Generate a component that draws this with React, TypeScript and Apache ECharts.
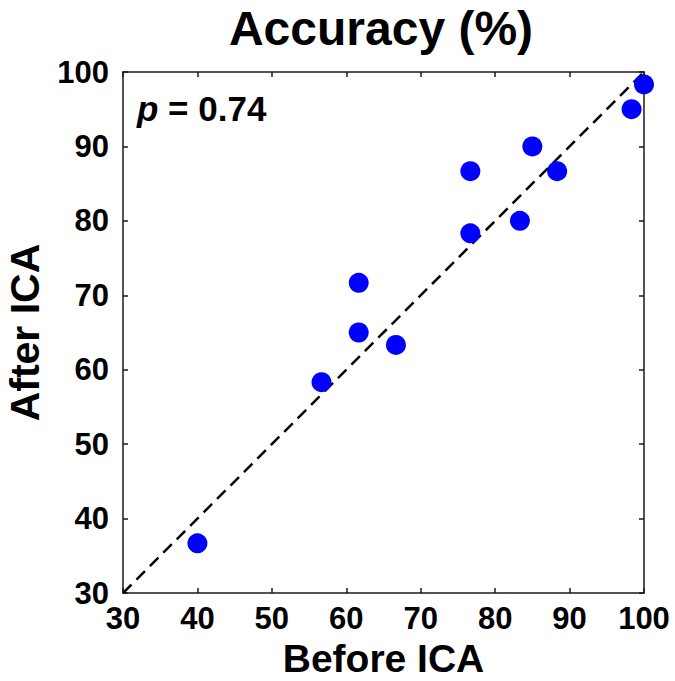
import React, { useEffect, useRef } from "react";
import * as echarts from "echarts";

const beforeICA = [40, 56.67, 61.67, 61.67, 66.67, 76.67, 76.67, 83.33, 85, 88.33, 98.33, 100];
const afterICA = [36.67, 58.33, 71.67, 65, 63.33, 86.67, 78.33, 80, 90, 86.67, 95, 98.33];
const axisTicks = [30, 40, 50, 60, 70, 80, 90, 100];
const identityLine = [[30, 30], [100, 100]];
const titleText = "Accuracy (%)";
const xName = "Before ICA";
const yName = "After ICA";
const pValue = "0.74";

const FONT = "Liberation Sans, Arial, Helvetica, sans-serif";

export default function App() {
  const ref = useRef<HTMLDivElement>(null);
  useEffect(() => {
    if (!ref.current) return;
    const chart = echarts.init(ref.current, undefined, { renderer: "svg" });
    const axisCommon = {
      type: "value",
      min: axisTicks[0],
      max: axisTicks[axisTicks.length - 1],
      interval: 10,
      splitLine: { show: false },
      axisLine: { show: true, lineStyle: { color: "#1a1a1a", width: 1.5 } },
      axisTick: { show: true, inside: true, length: 5, lineStyle: { color: "#1a1a1a", width: 1.5 } },
    };
    const labelStyle = { color: "#000", fontSize: 31, lineHeight: 31, fontWeight: "bold", fontFamily: FONT };
    chart.setOption({
      animation: false,
      backgroundColor: "#fff",
      grid: {
        left: 123,
        top: 72,
        right: 31,
        bottom: 88,
        containLabel: false,
        outerBoundsMode: "none",
      },
      title: {
        text: titleText,
        left: 381,
        textAlign: "center",
        top: 0,
        padding: 0,
        textStyle: { color: "#000", fontSize: 48, lineHeight: 56, fontWeight: "bold", fontFamily: FONT },
      },
      xAxis: [
        {
          ...axisCommon,
          position: "bottom",
          axisLabel: { ...labelStyle, margin: 10 },
          name: xName,
          nameLocation: "middle",
          nameGap: 46,
          nameMoveOverlap: false,
          nameTextStyle: { color: "#000", fontSize: 39, lineHeight: 39, fontWeight: "bold", fontFamily: FONT },
        },
        {
          ...axisCommon,
          position: "top",
          axisLabel: { show: false },
        },
      ],
      yAxis: [
        {
          ...axisCommon,
          position: "left",
          axisLabel: { ...labelStyle, margin: 14 },
          name: yName,
          nameLocation: "middle",
          nameGap: 78,
          nameMoveOverlap: false,
          nameTextStyle: { color: "#000", fontSize: 41, lineHeight: 41, fontWeight: "bold", fontFamily: FONT },
        },
        {
          ...axisCommon,
          position: "right",
          axisLabel: { show: false },
        },
      ],
      graphic: [
        {
          type: "text",
          left: 137,
          top: 91,
          style: {
            text: "{p|p} = " + pValue,
            fill: "#000",
            fontSize: 35,
            fontWeight: "bold",
            fontFamily: FONT,
            rich: {
              p: { fontStyle: "italic", fontSize: 35, fontWeight: "bold", fontFamily: FONT, fill: "#000" },
            },
          },
        },
      ],
      series: [
        {
          type: "line",
          data: identityLine,
          xAxisIndex: 0,
          yAxisIndex: 0,
          symbol: "none",
          lineStyle: { color: "#000", width: 2.5, type: [12, 7] },
          silent: true,
          z: 1,
        },
        {
          type: "scatter",
          data: beforeICA.map((b, i) => [b, afterICA[i]]),
          xAxisIndex: 0,
          yAxisIndex: 0,
          symbol: "circle",
          symbolSize: 20,
          itemStyle: { color: "#0000ff", opacity: 1 },
          clip: false,
          z: 2,
        },
      ],
    });
    return () => chart.dispose();
  }, []);
  return (
    <div
      ref={ref}
      style={{ position: "absolute", left: 0, top: 0, width: 675, height: 681 }}
    />
  );
}
